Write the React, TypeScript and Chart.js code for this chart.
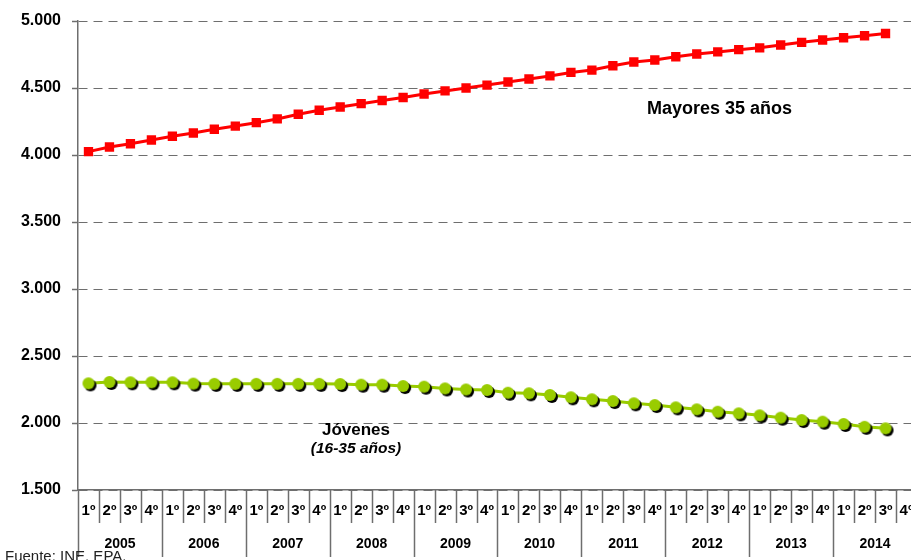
import React, { useEffect, useRef } from "react";
import { Chart, registerables } from "chart.js";

Chart.register(...registerables);

const years = ["2005", "2006", "2007", "2008", "2009", "2010", "2011", "2012", "2013", "2014"];
const quarters = ["1º", "2º", "3º", "4º"];
const categories: string[] = years.flatMap(() => quarters);

const mayores35 = [
  4025, 4060, 4084, 4112, 4140, 4164, 4192, 4216, 4241, 4269, 4304, 4334, 4358, 4383,
  4407, 4429, 4455, 4478, 4500, 4522, 4545, 4567, 4590, 4616, 4634,
  4666, 4694, 4709, 4733, 4754, 4769, 4786, 4800, 4821, 4841, 4858, 4875, 4890, 4907,
];
const jovenes = [
  2296, 2306, 2304, 2304, 2304, 2294, 2292, 2292, 2292, 2292, 2292, 2292, 2291, 2286, 2286, 2276, 2271, 2258, 2250,
  2246, 2226, 2222, 2209, 2192, 2177, 2164, 2147, 2134, 2117, 2102, 2084, 2072, 2057, 2040, 2022, 2010, 1993, 1972, 1960,
];
const yTicks = [1500, 2000, 2500, 3000, 3500, 4000, 4500, 5000];

const fmt = (v: number) => {
  const s = Math.round(v).toString();
  return s.replace(/\B(?=(\d{3})+(?!\d))/g, ".");
};

function makeGreenDot(): HTMLCanvasElement {
  const c = document.createElement("canvas");
  c.width = 20;
  c.height = 20;
  const g = c.getContext("2d")!;
  g.fillStyle = "#000000";
  g.beginPath();
  g.arc(12, 12, 6, 0, Math.PI * 2);
  g.fill();
  g.fillStyle = "#99CC00";
  g.beginPath();
  g.arc(10, 10, 6, 0, Math.PI * 2);
  g.fill();
  return c;
}

const decorPlugin = {
  id: "decor",
  afterDraw(chart: any) {
    const { ctx, chartArea, scales } = chart;
    const x = scales.x;
    const half = (x.getPixelForValue(1) - x.getPixelForValue(0)) / 2;
    ctx.save();
    // quarter separators
    ctx.strokeStyle = "#6e6e6e";
    ctx.lineWidth = 1.5;
    for (let i = 0; i <= categories.length; i++) {
      const px = Math.round(x.getPixelForValue(i) - half) + 0.5;
      const isYear = i % 4 === 0;
      ctx.beginPath();
      ctx.moveTo(px, chartArea.bottom);
      ctx.lineTo(px, isYear ? chartArea.bottom + 67 : chartArea.bottom + 33);
      ctx.stroke();
    }
    // year labels
    ctx.fillStyle = "#000";
    ctx.font = "bold 14px 'Liberation Sans', Arial, sans-serif";
    ctx.textAlign = "center";
    ctx.textBaseline = "middle";
    years.forEach((yr, k) => {
      const a = x.getPixelForValue(k * 4) - half;
      const b = x.getPixelForValue(k * 4 + 3) + half;
      ctx.fillText(yr, (a + b) / 2, chartArea.bottom + 54);
    });
    // source
    ctx.textAlign = "left";
    ctx.textBaseline = "alphabetic";
    ctx.font = "15px 'Liberation Sans', Arial, sans-serif";
    ctx.fillStyle = "#222";
    ctx.fillText("Fuente: INE. EPA.", 5, 561);
    // series annotations
    ctx.fillStyle = "#000";
    ctx.font = "bold 18px 'Liberation Sans', Arial, sans-serif";
    ctx.fillText("Mayores 35 años", 647, 114);
    ctx.textAlign = "center";
    ctx.font = "bold 17px 'Liberation Sans', Arial, sans-serif";
    ctx.fillText("Jóvenes", 356, 435);
    ctx.font = "italic bold 15.5px 'Liberation Sans', Arial, sans-serif";
    ctx.fillText("(16-35 años)", 356, 453);
    ctx.restore();
  },
};

export default function App() {
  const ref = useRef<HTMLCanvasElement>(null);
  useEffect(() => {
    document.body.style.margin = "0";
    const chart = new Chart(ref.current!, {
      type: "line",
      data: {
        labels: categories,
        datasets: [
          {
            label: "Mayores 35 años",
            data: mayores35,
            borderColor: "#FF0000",
            backgroundColor: "#FF0000",
            borderWidth: 3,
            pointStyle: "rect",
            pointRadius: 6.6,
            pointBorderWidth: 0,
            tension: 0,
          },
          {
            label: "Jóvenes (16-35 años)",
            data: jovenes,
            borderColor: "#99CC00",
            backgroundColor: "#99CC00",
            borderWidth: 3,
            pointStyle: makeGreenDot() as any,
            pointRadius: 6,
            tension: 0,
          },
        ],
      },
      options: {
        animation: false,
        responsive: false,
        devicePixelRatio: 1,
        layout: { padding: { top: 21, left: 0, right: 0, bottom: 0 } },
        plugins: { legend: { display: false }, tooltip: { enabled: false } },
        scales: {
          x: {
            type: "category",
            offset: true,
            grid: { display: false, drawTicks: false },
            border: { display: true, color: "#6e6e6e", width: 1.5 },
            ticks: {
              autoSkip: false,
              maxRotation: 0,
              minRotation: 0,
              padding: 12,
              color: "#000",
              font: { family: "'Liberation Sans', Arial, sans-serif", size: 15, weight: "bold" },
            },
            afterFit: (s: any) => {
              s.height = 70;
            },
          },
          y: {
            min: 1500,
            max: 5000,
            afterBuildTicks: (s: any) => {
              s.ticks = yTicks.map((v) => ({ value: v }));
            },
            grid: {
              color: "#6e6e6e",
              lineWidth: 1,
              drawTicks: true,
              tickLength: 6,
              tickColor: "#6e6e6e",
              tickBorderDash: [],
              tickWidth: 1.5,
            },
            border: { display: true, color: "#6e6e6e", width: 1.5, dash: [9, 6] },
            ticks: {
              padding: 11,
              color: "#000",
              font: { family: "'Liberation Sans', Arial, sans-serif", size: 16, weight: "bold" },
              callback: (v: any) => fmt(Number(v)),
            },
            afterFit: (s: any) => {
              s.width = 78;
            },
          },
        },
      },
      plugins: [decorPlugin],
    });
    return () => chart.destroy();
  }, []);
  return (
    <div style={{ position: "fixed", left: 0, top: 0, width: 911, height: 560, overflow: "hidden", background: "#fff" }}>
      <canvas ref={ref} width={926} height={560} style={{ display: "block" }} />
    </div>
  );
}
